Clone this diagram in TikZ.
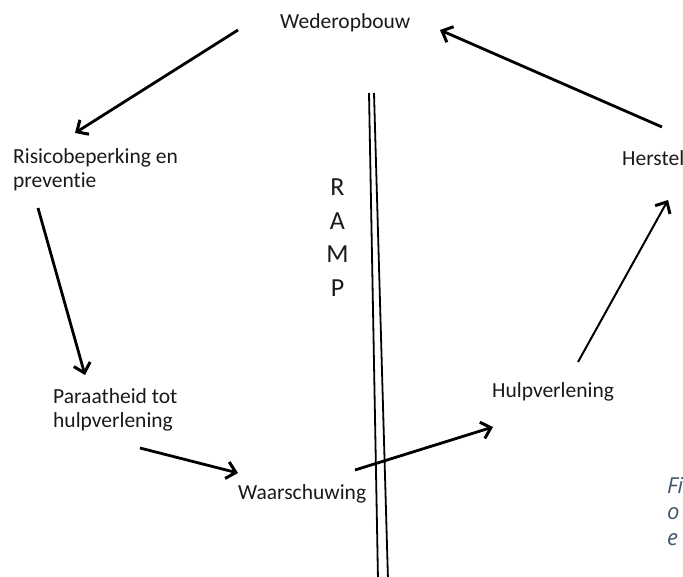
\documentclass[tikz,border=0pt]{standalone}
\usepackage{fontspec}
\setmainfont{Carlito}[Ligatures={NoCommon}]
\setsansfont{Open Sans}
\usetikzlibrary{arrows.meta}
\definecolor{capblue}{HTML}{44546A}
\definecolor{ink}{HTML}{1A1A1A}
\tikzset{
  lbl/.style={inner sep=0pt, font=\fontsize{21.5}{24.5}\selectfont, align=left, text=ink},
  cyc/.style={line width=2.8pt, -{Straight Barb[length=9pt,width=17pt,line width=3pt]}},
  rampline/.style={line width=1.8pt},
  captxt/.style={inner sep=0pt, anchor=base west, font=\fontsize{22}{25}\selectfont\sffamily\itshape, text=capblue}
}
\begin{document}
\begin{tikzpicture}[x=1pt,y=-1pt]
\useasboundingbox (0,0) rectangle (683,576);
\clip (0,0) rectangle (683,576);
\fill[white] (0,0) rectangle (683,576);
% labels
\node[lbl, anchor=base west] (wed) at (280,28) {Wederopbouw};
\node[lbl, anchor=base west] (ris) at (13,187.5) {Risicobeperking en\\preventie};
\node[lbl, anchor=base west] (her) at (622,165) {Herstel};
\node[lbl, align=center, anchor=base, font=\fontsize{26}{33.5}\selectfont] (ramp) at (337.5,296) {R\\A\\M\\P};
\node[lbl, anchor=base west] (par) at (53,427.5) {Paraatheid tot\\hulpverlening};
\node[lbl, anchor=base west] (hulp) at (492,397) {Hulpverlening};
\node[lbl, anchor=base west] (waar) at (238,499) {Waarschuwing};
\node[captxt] (c1) at (667,493) {Fi};
\node[captxt] (c2) at (667,519) {o};
\node[captxt] (c3) at (667,545) {e};
% arrow end points
\coordinate (a1s) at (238,30);  \coordinate (a1e) at (75,133);
\coordinate (a2s) at (662,127); \coordinate (a2e) at (440,30);
\coordinate (a3s) at (38,208);  \coordinate (a3e) at (85,375);
\coordinate (a4s) at (140,448); \coordinate (a4e) at (238,473);
\coordinate (a5s) at (355,470); \coordinate (a5e) at (493,427);
\coordinate (a6s) at (578,362); \coordinate (a6e) at (668,200);
\coordinate (r1t) at (369,93);  \coordinate (r1b) at (378,580);
\coordinate (r2t) at (374,93);  \coordinate (r2b) at (388,580);
% RAMP double line
\draw[rampline] (r1t) -- (r1b);
\draw[rampline] (r2t) -- (r2b);
% cycle arrows
\draw[cyc] (a1s) -- (a1e);
\draw[cyc] (a2s) -- (a2e);
\draw[cyc] (a3s) -- (a3e);
\draw[cyc] (a4s) -- (a4e);
\draw[cyc] (a5s) -- (a5e);
\draw[cyc, line width=2pt] (a6s) -- (a6e);
\end{tikzpicture}
\end{document}
